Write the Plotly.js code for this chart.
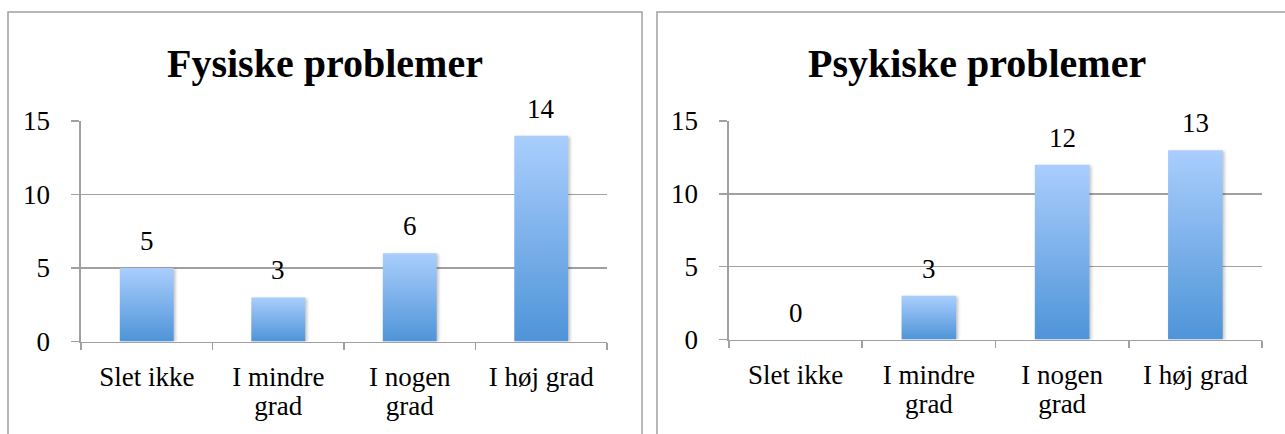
<!DOCTYPE html>
<html>
<head>
<meta charset="utf-8">
<script src="https://cdn.plot.ly/plotly-3.0.1.min.js"></script>
<style>
html, body { margin: 0; padding: 0; background: #ffffff; }
#chart { width: 1285px; height: 434px; }
</style>
</head>
<body>
<div id="chart"></div>
<script>
// ---- Data ----
const categories = ["Slet ikke", "I mindre<br>grad", "I nogen<br>grad", "I høj grad"];
const fysiskeValues = [5, 3, 6, 14];
const psykiskeValues = [0, 3, 12, 13];
const panelTitles = ["Fysiske problemer", "Psykiske problemer"];
const yTickVals = [0, 5, 10, 15];

// ---- Layout helpers ----
const W = 1285, H = 434;
const px = x => x / W;
const py = y => (H - y) / H;
const FONT = "'Liberation Serif', 'Times New Roman', serif";
const GREY = "#a0a0a0";

function barTrace(values, xa, ya) {
  return {
    type: "bar", x: categories, y: values, xaxis: xa, yaxis: ya,
    width: 0.41, marker: { color: "#78ade9", line: { width: 0 } },
    hoverinfo: "skip", showlegend: false
  };
}

function valueLabels(values, xa, ya) {
  return values.map((v, i) => ({
    xref: xa, yref: ya, x: categories[i], y: v, text: String(v),
    showarrow: false, yanchor: "bottom", yshift: 10,
    font: { family: FONT, size: 27, color: "#000" }
  }));
}

function xAxis(d, anchor) {
  return {
    domain: d, anchor: anchor, type: "category", range: [-0.5, 3.5],
    showline: true, linecolor: GREY, linewidth: 1.6,
    ticks: "outside", tickson: "boundaries", ticklen: 7, tickcolor: GREY, tickwidth: 1.6,
    showgrid: false, zeroline: false, fixedrange: true,
    ticklabelstandoff: 10,
    tickfont: { family: FONT, size: 27, color: "#000" }
  };
}
function yAxis(d, anchor) {
  return {
    domain: d, anchor: anchor, range: [0, 15], tickmode: "array", tickvals: yTickVals,
    showline: true, linecolor: GREY, linewidth: 1.6,
    ticks: "outside", ticklen: 8, tickcolor: GREY, tickwidth: 1.6,
    showgrid: true, gridcolor: GREY, gridwidth: 1.6, zeroline: false, fixedrange: true,
    ticklabelstandoff: 16,
    tickfont: { family: FONT, size: 27, color: "#000" }
  };
}

const data = [
  barTrace(fysiskeValues, "x", "y"),
  barTrace(psykiskeValues, "x2", "y2")
];

const layout = {
  width: W, height: H,
  margin: { l: 0, r: 0, t: 0, b: 0 },
  paper_bgcolor: "#ffffff", plot_bgcolor: "rgba(0,0,0,0)",
  font: { family: FONT, color: "#000" },
  bargap: 0.59,
  xaxis: xAxis([px(81), px(607)], "y"),
  yaxis: yAxis([py(341.5), py(121)], "x"),
  xaxis2: xAxis([px(729), px(1262)], "y2"),
  yaxis2: yAxis([py(339.5), py(121)], "x2"),
  shapes: [
    { type: "rect", xref: "paper", yref: "paper", x0: px(8), x1: px(642), y0: -0.2, y1: py(12),
      line: { color: GREY, width: 1.5 }, fillcolor: "rgba(0,0,0,0)", layer: "below" },
    { type: "rect", xref: "paper", yref: "paper", x0: px(657), x1: px(1297), y0: -0.2, y1: py(12),
      line: { color: GREY, width: 1.5 }, fillcolor: "rgba(0,0,0,0)", layer: "below" }
  ],
  annotations: [
    { xref: "paper", yref: "paper", x: px(325), y: py(88), yanchor: "bottom", xanchor: "center",
      text: "<b>" + panelTitles[0] + "</b>", showarrow: false,
      font: { family: FONT, size: 40, color: "#000" } },
    { xref: "paper", yref: "paper", x: px(977), y: py(88), yanchor: "bottom", xanchor: "center",
      text: "<b>" + panelTitles[1] + "</b>", showarrow: false,
      font: { family: FONT, size: 40, color: "#000" } }
  ].concat(valueLabels(fysiskeValues, "x", "y"), valueLabels(psykiskeValues, "x2", "y2"))
};

Plotly.newPlot("chart", data, layout, { staticPlot: true, displayModeBar: false }).then(gd => {
  const ns = "http://www.w3.org/2000/svg";
  const svg = gd.querySelector("svg.main-svg");
  let defs = svg.querySelector("defs");
  if (!defs) { defs = document.createElementNS(ns, "defs"); svg.insertBefore(defs, svg.firstChild); }
  const lg = document.createElementNS(ns, "linearGradient");
  lg.setAttribute("id", "barGrad");
  lg.setAttribute("x1", "0"); lg.setAttribute("y1", "0");
  lg.setAttribute("x2", "0"); lg.setAttribute("y2", "1");
  [["0", "#aacefd"], ["1", "#4e94d8"]].forEach(([o, c]) => {
    const s = document.createElementNS(ns, "stop");
    s.setAttribute("offset", o); s.setAttribute("stop-color", c);
    lg.appendChild(s);
  });
  defs.appendChild(lg);
  gd.querySelectorAll(".barlayer .point path").forEach(p => {
    p.style.fill = "url(#barGrad)";
    p.style.filter = "drop-shadow(2px 1px 1.5px rgba(0,0,0,0.22))";
  });
  // tighter line spacing for two-line category labels
  gd.querySelectorAll(".xtick text tspan.line, .x2tick text tspan.line").forEach(t => {
    const dy = t.getAttribute("dy");
    if (dy && dy.indexOf("1.3em") >= 0) t.setAttribute("dy", "1.1em");
  });
});
</script>
</body>
</html>
